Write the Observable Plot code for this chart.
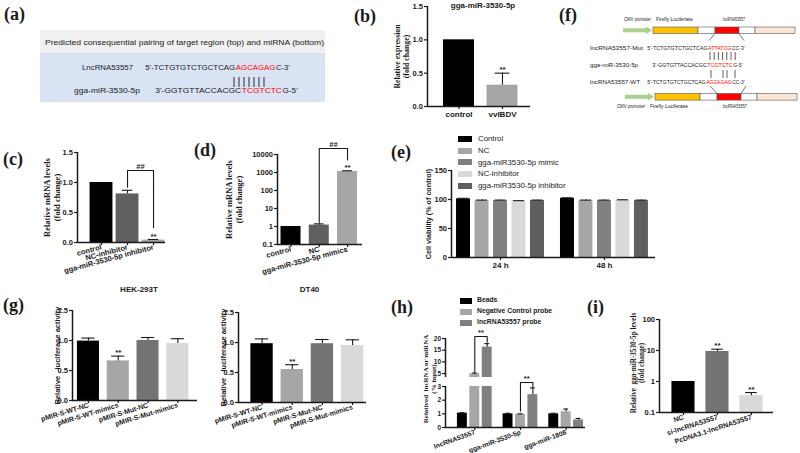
<!DOCTYPE html>
<html><head><meta charset="utf-8">
<script src="https://cdn.jsdelivr.net/npm/d3@7"></script>
<script src="https://cdn.jsdelivr.net/npm/@observablehq/plot@0.6"></script>
<style>
body{margin:0;background:#fff}
#fig{position:relative;width:800px;height:453px;overflow:hidden;font-family:"Liberation Sans",Arial,sans-serif;color:#1a1a1a}
.letter{position:absolute;font-family:"Liberation Serif","Times New Roman",serif;font-weight:bold;font-size:18px;line-height:1}
.leg{position:absolute;font-family:"Liberation Sans",Arial,sans-serif;white-space:nowrap;line-height:1}
.leg span.sw{display:inline-block;vertical-align:middle;margin-right:6px}
</style></head>
<body><div id="fig"></div>
<script>
// ---------------- DATA ----------------
// (a)
const aHeader = "Predicted consequential pairing of target region (top) and miRNA (bottom)";
const aLabels = ["LncRNA53557", "gga-miR-3530-5p"];
const aSeqs = [["5'-TCTGTGTCTGCTCAG", "AGCAGAG", "C-3'"], ["3'-GGTGTTACCACGC", "TCGTCTC", "G-5'"]];
// (b)
const bTitle = "gga-miR-3530-5p";
const bCats = ["control", "vvIBDV"];
const bValues = [1.0, 0.32];
const bErrTop = [null, 0.5];
const bSig = ["", "**"];
const bColors = ["#000000", "#a6a6a6"];
// (c)
const cCats = ["control", "NC-inhibitor", "gga-miR-3530-5p inhibitor"];
const cValues = [1.0, 0.81, 0.04];
const cErrTop = [null, 0.87, 0.05];
const cSig = ["", "", "**"];
const cColors = ["#000000", "#606060", "#a6a6a6"];
// (d)
const dCats = ["control", "NC", "gga-miR-3530-5p mimics"];
const dValues = [1.0, 1.2, 1150];
const dErrTop = [null, 1.4, 1250];
const dSig = ["", "", "**"];
const dColors = ["#000000", "#606060", "#a6a6a6"];
// (e)
const eGroups = ["24 h", "48 h"];
const eSeries = ["Control", "NC", "gga-miR3530-5p mimic", "NC-inhibitor", "gga-miR3530-5p inhibitor"];
const eColors = ["#000000", "#a6a6a6", "#808080", "#d9d9d9", "#5f5f5f"];
const e24 = [101, 98, 98, 97, 98];
const e48 = [102, 98, 98, 98.5, 98];
const e24Err = [102, 99, 99, 98, 99];
const e48Err = [103, 99, 99, 99.5, 99];
// (f)
const fConstruct = [
  {name: "Firefly Luciferase", len: 45, fill: "#ffc000"},
  {name: "", len: 17, fill: "#ffffff"},
  {name: "lncRNA53557", len: 24, fill: "#ff0000"},
  {name: "", len: 16, fill: "#ffffff"},
  {name: "", len: 40, fill: "#fbe5d6"}
];
const fLabels = ["CMV promoter", "Firefly Luciferase", "lncRNA53557"];
const fRowLabels = ["lncRNA53557-Mut", "gga-miR-3530-5p", "lncRNA53557-WT"];
const fRowSeqs = [
  ["5'-TCTGTGTCTGCTCAG", "ATTATCG", "CC-3'"],
  ["3'-GGTGTTACCACGC", "TCGTCTC", "G-5'"],
  ["5'-TCTGTGTCTGCTCAG", "AGCAGAG", "CC-3'"]
];
const fPairsUpper = [0, 1, 2, 3, 4, 5, 6];
const fPairsLower = [0, 3, 4, 6];
// (g)
const gCats = ["pMIR-S-WT-NC", "pMIR-S-WT-mimics", "pMIR-S-Mut-NC", "pMIR-S-Mut-mimics"];
const gColors = ["#000000", "#a6a6a6", "#737373", "#d9d9d9"];
const gSig = ["", "**", "", ""];
const hekValues = [0.99, 0.66, 1.0, 0.95];
const hekErrTop = [1.04, 0.74, 1.05, 1.03];
const dt40Values = [0.98, 0.55, 0.98, 0.95];
const dt40ErrTop = [1.06, 0.63, 1.05, 1.045];
// (h)
const hGroups = ["lncRNA53557", "gga-miR-3530-5p", "gga-miR-1808"];
const hSeries = ["Beads", "Negative Control probe", "lncRNA53557 probe"];
const hColors = ["#000000", "#a6a6a6", "#808080"];
const hBeads = [1.05, 1.0, 1.0];
const hNC = [4.9, 0.97, 1.15];
const hProbe = [16.3, 2.4, 0.55];
const hBeadsErr = [1.08, 1.04, 1.04];
const hNCErr = [5.2, 1.0, 1.35];
const hProbeErr = [17.8, 2.9, 0.66];
// (i)
const iCats = ["NC", "si-lncRNA53557", "PcDNA3.1-lncRNA53557"];
const iValues = [1.0, 9.3, 0.35];
const iErrTop = [null, 11, 0.44];
const iSig = ["", "**", "**"];
const iColors = ["#000000", "#737373", "#d9d9d9"];

// ---------------- HELPERS ----------------
const fig = document.getElementById("fig");
const SANS = "Liberation Sans, Arial, sans-serif";
const SERIF = "Liberation Serif, Times New Roman, serif";
const INK = "#1a1a1a";

function place(node, left, top) {
  node.style.position = "absolute";
  node.style.left = left + "px";
  node.style.top = top + "px";
  fig.appendChild(node);
  return node;
}
function rows(cats, values, errs, sig, colors, posFn = i => i) {
  return cats.map((c, i) => ({cat: c, pos: posFn(i), v: values[i], e: errs ? errs[i] : null, sig: sig ? sig[i] : "", fill: colors[i]}));
}
function bars(data, half, base, opts = {}) {
  return Plot.rectY(data, {x1: d => d.pos - half, x2: d => d.pos + half, y1: () => base, y2: "v", fill: "fill", ...opts});
}
function errs(data, cap, opts = {}) {
  const d2 = data.filter(d => d.e != null && d.e > d.v);
  return [
    Plot.ruleX(d2, {x: "pos", y1: "v", y2: "e", stroke: INK, strokeWidth: 1.1, ...opts}),
    Plot.ruleY(d2, {y: "e", x1: d => d.pos - cap, x2: d => d.pos + cap, stroke: INK, strokeWidth: 1.1, ...opts})
  ];
}
function stars(data, opts = {}) {
  return Plot.text(data.filter(d => d.sig), {x: "pos", y: d => d.e ?? d.v, text: "sig", dy: -1, lineAnchor: "bottom", fontSize: 8, fontWeight: "bold", fill: INK, ...opts});
}
function bracket(a, b, top, yl, yr, label, opts = {}) {
  const pts = [{x: a, y: yl}, {x: a, y: top}, {x: b, y: top}, {x: b, y: yr}];
  return [
    Plot.line(pts, {x: "x", y: "y", stroke: INK, strokeWidth: 1.1}),
    Plot.text([label], {x: () => (a + b) / 2, y: () => top, text: d => d, dy: -1.5, lineAnchor: "bottom", fontSize: 7.5, fontWeight: "bold", fill: INK, ...opts})
  ];
}
function chart(o) {
  const {x0, x1, yTop, yBot, xDomain, yDomain, yType = "linear", mL = 32, mR = 4, mT = 24, mB = 50} = o;
  const width = x1 - x0 + mL + mR, height = yBot - yTop + mT + mB;
  const marks = [...(o.marks || [])];
  marks.push(Plot.ruleX([xDomain[0]], {stroke: INK, strokeWidth: 1.5}));
  if (o.spineBottom !== false) marks.push(Plot.ruleY([yDomain[0]], {stroke: INK, strokeWidth: 1.5}));
  if (o.yTicks) marks.push(Plot.axisY({ticks: o.yTicks, tickFormat: o.yFmt, tickSize: 3, tickPadding: 1.5, fontSize: o.tickFont || 7.5, fontWeight: "bold", label: null, stroke: INK, strokeWidth: 1.2, fill: INK}));
  if (o.xTicks) marks.push(Plot.axisX({ticks: o.xTicks, tickFormat: o.xFmt, tickSize: 3, tickPadding: 1.5, tickRotate: o.rotate || 0, fontSize: o.xFont || 7.5, fontWeight: "bold", label: null, stroke: INK, strokeWidth: 1.2, fill: INK}));
  if (o.ylabel) marks.push(Plot.text([o.ylabel], {text: d => d, frameAnchor: "left", textAnchor: "middle", lineAnchor: "middle", rotate: -90, dx: o.ylabelDx, dy: o.ylabelDy || 0, fontSize: o.ylabelSize || 8.5, fontFamily: o.ylabelFont || SERIF, fontWeight: "bold", lineHeight: 1.15, fill: INK}));
  if (o.title) marks.push(Plot.text([o.title], {text: d => d, frameAnchor: "top", textAnchor: "middle", dx: o.titleDx || 0, dy: o.titleDy || 0, fontSize: 8, fontWeight: "bold", fill: INK}));
  const svg = Plot.plot({
    width, height, marginLeft: mL, marginRight: mR, marginTop: mT, marginBottom: mB,
    x: {type: "linear", domain: xDomain, axis: o.xTicks ? undefined : null},
    y: {type: yType, domain: yDomain, axis: o.yTicks ? undefined : null},
    color: {type: "identity"},
    style: {background: "transparent", fontFamily: SANS, color: INK, overflow: "visible"},
    marks
  });
  return place(svg, x0 - mL, yTop - mT);
}
function letter(t, x, y) {
  const d = document.createElement("div");
  d.className = "letter";
  d.textContent = t;
  place(d, x, y);
}
// sequence line: each part its own text; shrunk if too wide, stretched to fill otherwise
function seqLine(g, x, y, parts, size, total) {
  const nodes = parts.map((p, j) => g.append("text").attr("y", y).attr("font-size", size)
    .attr("fill", j === 1 ? "#ff0000" : INK).text(p));
  let nat = nodes.map(n => n.node().getComputedTextLength());
  const shrink = Math.min(1, total / d3.sum(nat) * 0.97);
  if (shrink < 1) {
    nodes.forEach(n => n.attr("font-size", size * shrink));
    nat = nodes.map(n => n.node().getComputedTextLength());
  }
  const k = total / d3.sum(nat);
  let cx = x;
  nodes.forEach((n, j) => {
    const w = nat[j] * k;
    const tl = k > 1.01 ? w - 0.6 : nat[j];
    n.attr("x", cx + (w - tl) / 2).attr("textLength", tl).attr("lengthAdjust", "spacingAndGlyphs");
    cx += w;
  });
}
function fitText(g, x, y, str, size, len) {
  return g.append("text").attr("x", x).attr("y", y).attr("font-size", size).attr("fill", INK)
    .attr("textLength", len).attr("lengthAdjust", "spacingAndGlyphs").text(str);
}
const f1 = d3.format(".1f");
const logFmt = d => String(d);

// ---------------- (a) ----------------
{
  const s = d3.create("svg").attr("width", 330).attr("height", 110).style("font-family", SANS);
  place(s.node(), 0, 0);
  s.append("rect").attr("x", 40).attr("y", 30).attr("width", 285).attr("height", 23).attr("fill", "#f0f0f0");
  s.append("rect").attr("x", 40).attr("y", 53).attr("width", 285).attr("height", 49).attr("fill", "#dae3f3");
  fitText(s, 45, 45, aHeader, 7.6, 279);
  const lab = [{x: 82, y: 69.5, len: 51}, {x: 74, y: 93, len: 66}];
  const seq = [{x: 145, y: 69.5, len: 145}, {x: 155, y: 93, len: 143}];
  aLabels.forEach((l, i) => fitText(s, lab[i].x, lab[i].y, l, 7, lab[i].len));
  aSeqs.forEach((parts, i) => seqLine(s, seq[i].x, seq[i].y, parts, 7, seq[i].len));
  d3.range(aSeqs[0][1].length).forEach(k => s.append("line").attr("x1", 234 + k * 5).attr("x2", 234 + k * 5)
    .attr("y1", 77).attr("y2", 87).attr("stroke", INK).attr("stroke-width", 0.9));
}

// ---------------- (b) ----------------
{
  const data = rows(bCats, bValues, bErrTop, bSig, bColors);
  chart({
    x0: 427, x1: 530, yTop: 6, yBot: 106, xDomain: [-0.724, 1.644], yDomain: [0, 1.5],
    yTicks: [0, 0.5, 1, 1.5], yFmt: f1, xTicks: [0, 1], xFmt: i => bCats[i], xFont: 8,
    ylabel: "Relative expression\n(fold change)", ylabelDx: -26, ylabelSize: 7.8,
    title: bTitle, titleDx: 4, titleDy: -4,
    marks: [bars(data, 0.356, 0), ...errs(data, 0.17), stars(data)]
  });
}

// ---------------- (c) ----------------
{
  const data = rows(cCats, cValues, cErrTop, cSig, cColors);
  chart({
    x0: 77, x1: 165, yTop: 152, yBot: 242, xDomain: [-0.923, 2.46], yDomain: [0, 1.5],
    yTicks: [0, 0.5, 1, 1.5], yFmt: f1, xTicks: [0, 1, 2], xFmt: i => cCats[i], rotate: -15,
    ylabel: "Relative mRNA levels\n(fold change)", ylabelDx: -26,
    marks: [bars(data, 0.44, 0), ...errs(data, 0.2), stars(data), ...bracket(1, 2, 1.2, 0.92, 0.25, "##")]
  });
}

// ---------------- (d) ----------------
{
  const data = rows(dCats, dValues, dErrTop, dSig, dColors);
  chart({
    x0: 277, x1: 362, yTop: 154, yBot: 244, xDomain: [-0.478, 2.53], yDomain: [0.1, 10000], yType: "log",
    yTicks: [0.1, 1, 10, 100, 1000, 10000], yFmt: logFmt, xTicks: [0, 1, 2], xFmt: i => dCats[i], rotate: -15,
    ylabel: "Relative mRNA levels\n(fold change)", ylabelDx: -44,
    marks: [bars(data, 0.354, 0.1), ...errs(data, 0.17), stars(data), ...bracket(1, 2, 21500, 1.7, 5000, "##")]
  });
}

// ---------------- (e) ----------------
{
  const gOff = [0, 5.62];
  const data = [];
  [e24, e48].forEach((vals, g) => vals.forEach((v, i) => data.push({pos: gOff[g] + i, v, e: [e24Err, e48Err][g][i], fill: eColors[i]})));
  chart({
    x0: 451, x1: 655, yTop: 170, yBot: 257, xDomain: [-0.65, 10.38], yDomain: [0, 150],
    yTicks: [0, 50, 100, 150], yFmt: d3.format("d"), xTicks: gOff.map(o => o + 2), xFmt: (t, i) => eGroups[i], xFont: 8,
    ylabel: "Cell viability (% of control)", ylabelFont: SANS, ylabelSize: 7.2, ylabelDx: -23,
    marks: [bars(data, 0.378, 0), ...errs(data, 0.3)]
  });
  const leg = document.createElement("div");
  leg.className = "leg";
  eSeries.forEach((s, i) => {
    const r = document.createElement("div");
    r.style.cssText = "height:11.8px;font-size:7.8px;display:flex;align-items:center";
    r.innerHTML = `<span class="sw" style="width:14px;height:6px;background:${eColors[i]}"></span>${s}`;
    leg.appendChild(r);
  });
  place(leg, 458, 133);
}

// ---------------- (f) ----------------
{
  const X = 480;
  const s = d3.create("svg").attr("width", 320).attr("height", 115).style("font-family", SANS);
  place(s.node(), X, 0);
  const g = s.append("g").attr("transform", `translate(${-X},0)`);
  const drawConstruct = (x, y, arrowX) => {
    g.append("line").attr("x1", arrowX).attr("x2", x - 6).attr("y1", y + 3.3).attr("y2", y + 3.3).attr("stroke", "#a9d18e").attr("stroke-width", 4);
    g.append("path").attr("d", `M${x - 7},${y - 0.5} L${x - 1},${y + 3.3} L${x - 7},${y + 7.1} Z`).attr("fill", "#a9d18e");
    let cx = x;
    fConstruct.forEach(p => {
      g.append("rect").attr("x", cx).attr("y", y).attr("width", p.len).attr("height", 6.6).attr("fill", p.fill).attr("stroke", "#595959").attr("stroke-width", 0.6);
      cx += p.len;
    });
  };
  drawConstruct(653, 27, 623);
  drawConstruct(655, 93.5, 625);
  const labTop = [{x: 624, len: 27}, {x: 656, len: 37}, {x: 723, len: 22}];
  const labBot = [{x: 617, len: 28}, {x: 650, len: 38}, {x: 723, len: 24}];
  fLabels.forEach((l, i) => {
    fitText(g, labTop[i].x, 21, l, 5.5, labTop[i].len);
    fitText(g, labBot[i].x, 108, l, 5.5, labBot[i].len);
  });
  const rowY = [49.5, 67, 83.5];
  const rowLabLen = [53, 48, 50];
  const seqX = [{x: 647, len: 98}, {x: 652, len: 91}, {x: 647, len: 98}];
  fRowLabels.forEach((l, i) => {
    fitText(g, 590, rowY[i], l, 5.6, rowLabLen[i]);
    seqLine(g, seqX[i].x, rowY[i], fRowSeqs[i], 5.6, seqX[i].len);
  });
  fPairsUpper.forEach(k => g.append("line").attr("x1", 710 + k * 4.2).attr("x2", 710 + k * 4.2).attr("y1", 52).attr("y2", 60).attr("stroke", INK).attr("stroke-width", 0.7));
  fPairsLower.forEach(k => g.append("line").attr("x1", 711 + k * 4).attr("x2", 711 + k * 4).attr("y1", 70).attr("y2", 78).attr("stroke", INK).attr("stroke-width", 0.7));
  [[715, 33.6, 709, 40.5], [739, 33.6, 744, 40.5], [710, 86, 717, 93.5], [746, 86, 741, 93.5]].forEach(([a, b, c, d]) =>
    g.append("line").attr("x1", a).attr("y1", b).attr("x2", c).attr("y2", d).attr("stroke", INK).attr("stroke-width", 0.6));
}

// ---------------- (g) ----------------
{
  const data = rows(gCats, hekValues, hekErrTop, gSig, gColors);
  chart({
    x0: 72, x1: 197, yTop: 310, yBot: 400, xDomain: [-0.535, 3.66], yDomain: [0, 1.5],
    yTicks: [0, 0.5, 1, 1.5], yFmt: f1, xTicks: [0, 1, 2, 3], xFmt: i => gCats[i], rotate: -17, xFont: 7,
    ylabel: "Relative   luciferase activity", ylabelFont: SANS, ylabelSize: 7.5, ylabelDx: -15,
    title: "HEK-293T", titleDx: 4, titleDy: -24,
    marks: [bars(data, 0.37, 0), ...errs(data, 0.22), stars(data)]
  });
  const data2 = rows(gCats, dt40Values, dt40ErrTop, gSig, gColors);
  chart({
    x0: 238, x1: 366, yTop: 312, yBot: 402, xDomain: [-0.78, 3.46], yDomain: [0, 1.5],
    yTicks: [0, 0.5, 1, 1.5], yFmt: f1, xTicks: [0, 1, 2, 3], xFmt: i => gCats[i], rotate: -17, xFont: 7,
    ylabel: "Relative   luciferase activity", ylabelFont: SANS, ylabelSize: 7.5, ylabelDx: -15,
    title: "DT40", titleDx: 7, titleDy: -26,
    marks: [bars(data2, 0.37, 0), ...errs(data2, 0.22), stars(data2)]
  });
}

// ---------------- (h) ----------------
{
  const gOff = [0, 3.68, 7.36];
  const series = [[hBeads, hBeadsErr], [hNC, hNCErr], [hProbe, hProbeErr]];
  const data = [];
  hGroups.forEach((gname, g) => series.forEach(([vals, er], s) => data.push({pos: gOff[g] + s, v: vals[g], e: er[g], fill: hColors[s], sig: ""})));
  // upper segment
  chart({
    x0: 445, x1: 585, yTop: 338, yBot: 377, xDomain: [-1.36, 9.92], yDomain: [3.29, 20],
    yTicks: [5, 10, 15, 20], yFmt: d3.format("d"), spineBottom: false, mB: 4, tickFont: 6.5,
    marks: [bars(data, 0.4, 0, {clip: true}), ...errs(data.filter(d => d.v > 3.29), 0.2),
      ...bracket(1, 2, 20.86, 5.6, 18.4, "**")]
  });
  // lower segment
  chart({
    x0: 445, x1: 585, yTop: 386, yBot: 427, xDomain: [-1.36, 9.92], yDomain: [0, 3],
    yTicks: [0, 1, 2, 3], yFmt: d3.format("d"), tickFont: 6.5, xTicks: gOff.map(o => o + 1), xFmt: (t, i) => hGroups[i], rotate: -20, xFont: 6.8,
    ylabel: "Relatived  lncRNA or miRNA\n(% input)", ylabelSize: 7, ylabelDx: -16, ylabelDy: -28,
    marks: [bars(data, 0.4, 0, {clip: true}), ...errs(data.filter(d => d.e <= 3), 0.2),
      ...bracket(gOff[1] + 1, gOff[1] + 2, 3.29, 1.2, 3.0, "**")]
  });
  const leg = document.createElement("div");
  leg.className = "leg";
  hSeries.forEach((s, i) => {
    const r = document.createElement("div");
    r.style.cssText = "height:11px;font-size:6.8px;font-weight:bold;display:flex;align-items:center";
    r.innerHTML = `<span class="sw" style="width:12px;height:6px;background:${hColors[i]};margin-right:5px"></span>${s}`;
    leg.appendChild(r);
  });
  place(leg, 460, 295);
}

// ---------------- (i) ----------------
{
  const data = rows(iCats, iValues, iErrTop, iSig, iColors);
  chart({
    x0: 659, x1: 773, yTop: 319, yBot: 412, xDomain: [-0.706, 2.65], yDomain: [0.1, 100], yType: "log",
    yTicks: [0.1, 1, 10, 100], yFmt: logFmt, xTicks: [0, 1, 2], xFmt: i => iCats[i], rotate: -18, xFont: 7,
    ylabel: "Relative  gga-miR-3530-5p levels\n(fold change)", ylabelSize: 7.2, ylabelDx: -22, ylabelDy: -3,
    marks: [bars(data, 0.34, 0.1), ...errs(data, 0.17), stars(data)]
  });
}

// ---------------- panel letters ----------------
[["(a)", 4, 5], ["(b)", 354, 7], ["(c)", 3, 150], ["(d)", 194, 141], ["(e)", 391, 143],
 ["(f)", 559, 6], ["(g)", 3, 296], ["(h)", 391, 298], ["(i)", 587, 298]].forEach(([t, x, y]) => letter(t, x, y));
</script></body></html>
